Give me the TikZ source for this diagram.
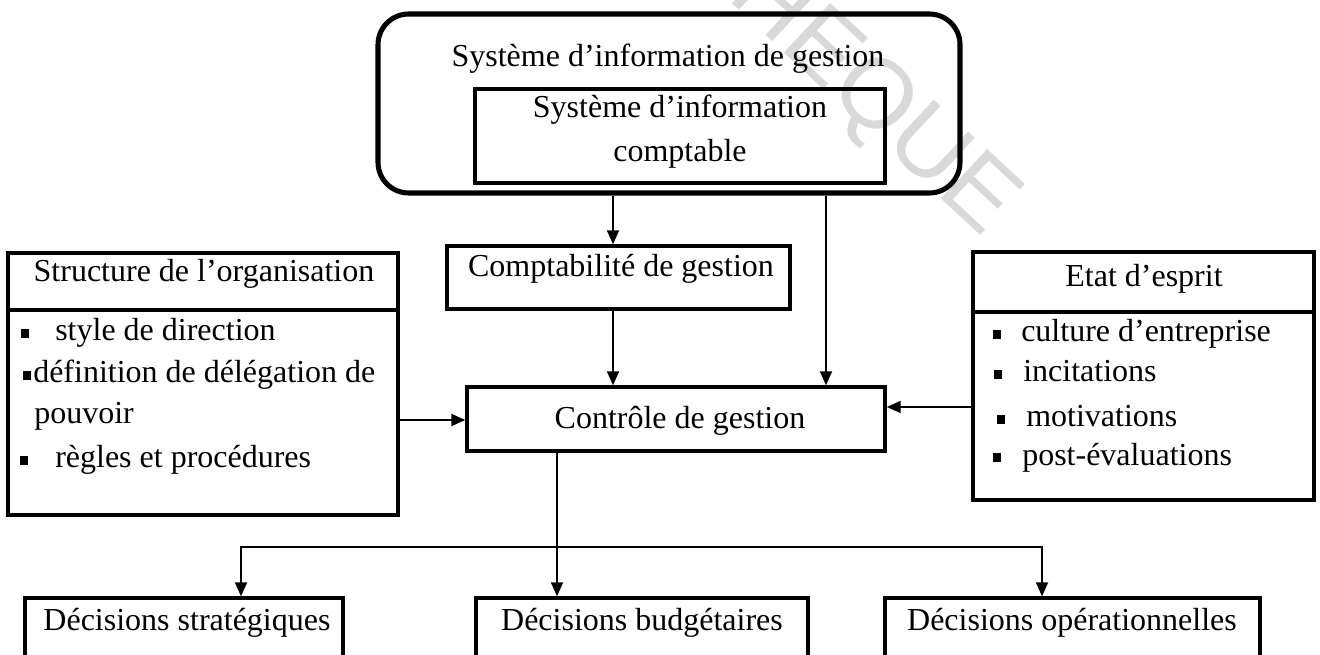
\documentclass[tikz,border=0pt]{standalone}
\usepackage{fontspec}
\setmainfont{Liberation Serif}
\newfontfamily\wmfont{Liberation Sans}
\usetikzlibrary{arrows.meta,fit}

\tikzset{
  box/.style={draw, line width=2.6pt, inner sep=0pt},
  roundbox/.style={draw, line width=3.8pt, rounded corners=23pt, inner sep=0pt},
  lbl/.style={font=\fontsize{24}{31}\selectfont, inner sep=0pt, anchor=base},
  item/.style={lbl, anchor=base west},
  conn/.style={line width=1.5pt, -{Triangle[length=10.5pt,width=9pt]}},
  wm/.style={font=\wmfont\fontsize{74}{74}\selectfont, text=black!15, inner sep=0pt},
}
% square list marker followed by a gap of the given width
\newcommand{\bul}[1]{\makebox[#1][l]{\rule[2.4pt]{5.8pt}{6.6pt}}}

\begin{document}
\begin{tikzpicture}[x=0.75pt,y=-0.75pt]
\useasboundingbox (0,0) rectangle (1320,655);

% faint watermark behind everything
\node[wm, rotate=-43] (wmark) at (872,100) {HEQUE};

% information systems
\node[roundbox, fit={(378,14) (960,193)}] (sig) {};
\node[lbl] (sigt) at (668,67) {Système d’information de gestion};
\node[box, fit={(475,89) (885,183)}] (sic) {};
\node[lbl] (sic1) at (680,118) {Système d’information};
\node[lbl] (sic2) at (680,162) {comptable};

% management accounting
\node[box, fit={(447,246) (790,309)}] (comp) {};
\node[lbl] (compt) at (621,277) {Comptabilité de gestion};

% management control
\node[box, fit={(467,387) (885,451)}] (ctrl) {};
\node[lbl] (ctrlt) at (680,429) {Contrôle de gestion};

% organisation structure
\node[box, fit={(8,253) (398,515)}] (struct) {};
\draw[line width=2.6pt] (struct.west |- 0,310) -- (struct.east |- 0,310);
\node[lbl] (structt) at (204,282) {Structure de l’organisation};
\node[item] (s1) at (21,341) {\bul{25.5pt}style de direction};
\node[item] (s2) at (23,383) {\bul{7.5pt}définition de délégation de};
\node[item] (s3) at (34,424) {pouvoir};
\node[item] (s4) at (20,468) {\bul{26.25pt}règles et procédures};

% state of mind
\node[box, fit={(973,252) (1314,500)}] (etat) {};
\draw[line width=2.6pt] (etat.west |- 0,312) -- (etat.east |- 0,312);
\node[lbl] (etatt) at (1144,287) {Etat d’esprit};
\node[item] (e1) at (993,342) {\bul{21pt}culture d’entreprise};
\node[item] (e2) at (994,382) {\bul{21.75pt}incitations};
\node[item] (e3) at (997,427) {\bul{21.75pt}motivations};
\node[item] (e4) at (993,465) {\bul{21.75pt}post-évaluations};

% decisions
\node[box, fit={(25,598) (343,670)}] (dstr) {};
\node[lbl] (dstrt) at (187,630) {Décisions stratégiques};
\node[box, fit={(476,598) (808,670)}] (dbud) {};
\node[lbl] (dbudt) at (642,630) {Décisions budgétaires};
\node[box, fit={(885,598) (1260,670)}] (dop) {};
\node[lbl] (dopt) at (1072,630) {Décisions opérationnelles};

% connectors
\coordinate (xa) at (613,0);
\coordinate (xb) at (826,0);
\coordinate (yl) at (0,420);
\coordinate (yr) at (0,407);
\coordinate (j) at (557,547);
\coordinate (jl) at (241,547);
\coordinate (jr) at (1042,547);

\draw[conn] (sig.south -| xa) -- (comp.north -| xa);
\draw[conn] (comp.south -| xa) -- (ctrl.north -| xa);
\draw[conn] (sig.south -| xb) -- (ctrl.north -| xb);
\draw[conn] (struct.east |- yl) -- (ctrl.west |- yl);
\draw[conn] (etat.west |- yr) -- (ctrl.east |- yr);
\draw[conn] (ctrl.south -| j) -- (dbud.north -| j);
\draw[conn] (j) -| (dstr.north -| jl);
\draw[conn] (j) -| (dop.north -| jr);
\end{tikzpicture}
\end{document}
